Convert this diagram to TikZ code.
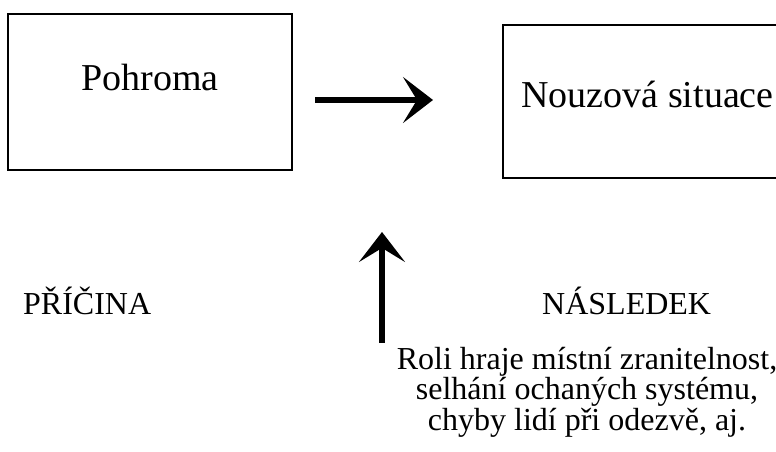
\documentclass[tikz,border=0pt]{standalone}
\usepackage{fontspec}
\setmainfont{Liberation Serif}
\usetikzlibrary{arrows.meta}
\tikzset{>={Stealth[length=30bp,width=46bp,inset=14bp]}}

\begin{document}
\begin{tikzpicture}[x=1bp, y=-1bp]
\tikzset{box/.style={draw, rectangle, line width=2.8bp, inner sep=0pt, text height=26bp, font=\fontsize{38bp}{40bp}\selectfont},
         tag/.style={inner sep=0pt, font=\fontsize{32bp}{28bp}\selectfont},
         fatarrow/.style={->, line width=5.5bp}}
    \useasboundingbox (0,0) rectangle (776,452);
    \clip (0,0) rectangle (776,452);

    \node[box, minimum width=284bp, minimum height=156bp, text depth=28bp] (Pohroma) at (150,92) {Pohroma};
    \node[box, minimum width=289bp, minimum height=153bp, text depth=13bp] (Nouzova) at (647.5,101.5) {Nouzová situace};

    \coordinate (Ai) at (315,100);
    \coordinate (Ao) at (433,100);
    \draw[fatarrow] (Ai) -- (Ao);
% % % % % % % % % % % % % % % % % % %
    \node[tag, anchor=base west] (Pricina) at (23,315) {PŘÍČINA};
    \node[tag, anchor=base west] (Nasledek) at (542,315) {NÁSLEDEK};
    \node[tag, align=center, anchor=base] (Role) at (587,430)
        {Roli hraje místní zranitelnost,\\ selhání ochaných systému,\\ chyby lidí při odezvě, aj.};

    \coordinate (Bi) at (382,343);
    \coordinate (Bo) at (382,232);
    \draw[fatarrow] (Bi) -- (Bo);
\end{tikzpicture}
\end{document}
